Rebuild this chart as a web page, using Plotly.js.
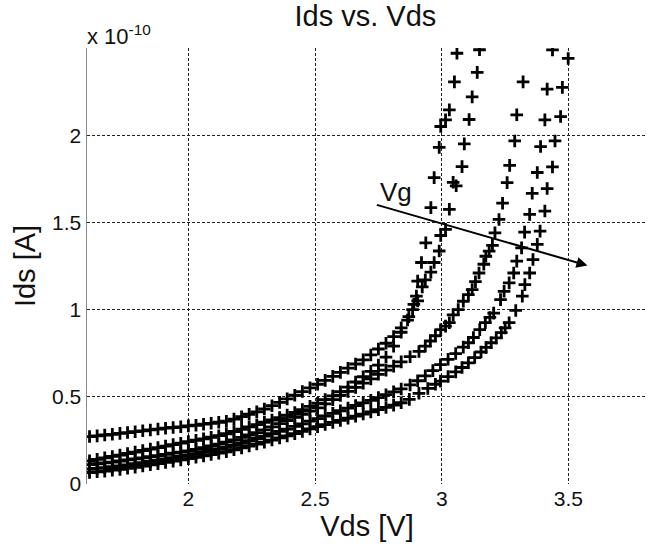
<!DOCTYPE html>
<html>
<head>
<meta charset="utf-8">
<script src="https://cdn.plot.ly/plotly-3.0.1.min.js"></script>
<style>html,body{margin:0;padding:0;background:#fff;}#chart{width:649px;height:549px;}</style>
</head>
<body>
<div id="chart"></div>
<script>
// Shared low-bias Vds sweep points [V]
const vdsLow = [1.61,1.64,1.67,1.70,1.73,1.76,1.79,1.82,1.85,1.88,1.91,1.94,1.97,2.00,2.03,2.06,2.09,2.12,2.15,2.18,2.21,2.24,2.27,2.30,2.33,2.36,2.39,2.42,2.45,2.48,2.51,2.54,2.57,2.60,2.63,2.66,2.69,2.72,2.75,2.78,2.81,2.84];

// Ids values in units of 1e-10 A
const idsLowA = [.272,.276,.281,.285,.29,.295,.3,.305,.31,.315,.32,.324,.328,.333,.337,.343,.348,.354,.36,.372,.386,.4,.414,.43,.449,.468,.488,.509,.53,.551,.572,.594,.617,.64,.664,.688,.712,.74,.774,.807,.845,.895];
const vdsHighA = [2.87,2.89,2.90,2.905,2.92,2.937,2.957,2.97,2.99,2.996,3.015,3.03,3.05,3.06];
const idsHighA = [.96,1.03,1.077,1.163,1.27,1.383,1.585,1.757,1.93,2.05,2.088,2.145,2.306,2.47];

const idsLowB = [.133,.141,.15,.158,.166,.175,.183,.192,.2,.209,.217,.226,.234,.243,.251,.259,.268,.277,.288,.301,.314,.327,.34,.354,.367,.381,.395,.41,.427,.445,.463,.484,.505,.529,.556,.585,.615,.646,.682,.728,.79,.87];
const vdsHighB = [2.865,2.885,2.905,2.923,2.935,2.957,2.97,2.99,2.996,3.015,3.03,3.045,3.057,3.08,3.089,3.108,3.12,3.14,3.149];
const idsHighB = [.94,1.0,1.05,1.13,1.17,1.215,1.27,1.336,1.425,1.46,1.575,1.73,1.71,1.82,1.95,2.09,2.22,2.36,2.49];

const idsLowC = [.111,.116,.121,.126,.132,.138,.144,.15,.157,.163,.17,.177,.183,.19,.199,.209,.219,.229,.24,.253,.267,.281,.295,.31,.328,.346,.364,.382,.4,.418,.437,.46,.484,.508,.531,.554,.578,.603,.629,.653,.676,.7];
const vdsHighC = [2.875,2.91,2.935,2.955,2.975,2.996,3.015,3.03,3.045,3.065,3.085,3.105,3.12,3.133,3.147,3.166,3.174,3.187,3.2,3.21,3.226,3.24,3.258,3.268,3.288,3.296,3.321];
const idsHighC = [.73,.76,.79,.82,.85,.885,.905,.925,.97,1.0,1.048,1.086,1.115,1.16,1.21,1.26,1.306,1.335,1.368,1.44,1.517,1.61,1.728,1.827,1.967,2.117,2.306];

const idsLowD = [.086,.09,.094,.099,.104,.11,.116,.123,.13,.137,.144,.151,.158,.165,.174,.183,.192,.201,.21,.222,.235,.248,.261,.275,.288,.302,.315,.33,.345,.36,.375,.39,.405,.42,.435,.45,.465,.48,.495,.512,.528,.545];
const vdsHighD = [2.875,2.905,2.935,2.965,2.995,3.025,3.055,3.085,3.105,3.125,3.15,3.172,3.19,3.205,3.232,3.246,3.266,3.284,3.296,3.315,3.327,3.347,3.357,3.377,3.39,3.407,3.416,3.437];
const idsHighD = [.568,.592,.62,.65,.684,.715,.748,.785,.81,.84,.885,.925,.955,.98,1.057,1.105,1.153,1.21,1.278,1.354,1.444,1.546,1.667,1.786,1.935,2.088,2.264,2.489];

const idsLowE = [.066,.07,.074,.079,.084,.09,.096,.103,.11,.117,.124,.131,.138,.145,.153,.161,.169,.177,.185,.196,.207,.218,.229,.24,.252,.264,.276,.289,.302,.316,.329,.341,.353,.365,.377,.389,.401,.413,.426,.439,.452,.466];
const vdsHighE = [2.872,2.91,2.945,2.975,2.995,3.025,3.055,3.08,3.105,3.13,3.155,3.175,3.195,3.215,3.235,3.25,3.266,3.292,3.318,3.328,3.347,3.36,3.377,3.388,3.407,3.416,3.437,3.447,3.469,3.476,3.499];
const idsHighE = [.485,.52,.548,.572,.59,.616,.643,.668,.695,.725,.757,.783,.81,.838,.868,.895,.925,.995,1.077,1.143,1.21,1.287,1.374,1.45,1.565,1.694,1.818,1.967,2.107,2.274,2.44];

const xTicks = [2, 2.5, 3, 3.5];
const xTickText = ['2', '2.5', '3', '3.5'];
const yTicks = [0, 0.5, 1, 1.5, 2];
const yTickText = ['0', '0.5', '1', '1.5', '2'];

const FONT = 'Arial, "Liberation Sans", sans-serif';

const curves = [
  [idsLowA, vdsHighA, idsHighA],
  [idsLowB, vdsHighB, idsHighB],
  [idsLowC, vdsHighC, idsHighC],
  [idsLowD, vdsHighD, idsHighD],
  [idsLowE, vdsHighE, idsHighE]
];

const traces = curves.map(c => ({
  type: 'scatter',
  mode: 'markers',
  x: vdsLow.concat(c[1]),
  y: c[0].concat(c[2]),
  marker: {symbol: 'cross-thin', size: 9, color: '#000', line: {color: '#000', width: 2.8}},
  showlegend: false,
  hoverinfo: 'skip',
  cliponaxis: true
}));

const gridStyle = {showgrid: true, gridcolor: '#222', gridwidth: 1, griddash: '3px,2px'};

const layout = {
  width: 649, height: 549,
  margin: {l: 87, r: 2, t: 48, b: 65},
  paper_bgcolor: '#fff', plot_bgcolor: '#fff',
  font: {family: FONT, color: '#111'},
  title: {text: 'Ids vs. Vds', font: {size: 29, family: FONT, color: '#111'},
          xref: 'container', yref: 'container', x: 0.563, xanchor: 'center', y: 0.972, yanchor: 'middle'},
  xaxis: Object.assign({
    range: [1.6, 3.81], tickvals: xTicks, ticktext: xTickText,
    tickfont: {size: 21, family: FONT, color: '#111'},
    title: {text: 'Vds [V]', font: {size: 29, family: FONT, color: '#111'}, standoff: 4},
    zeroline: false, showline: false, ticks: '', ticklen: 0
  }, gridStyle),
  yaxis: Object.assign({
    range: [0, 2.5], tickvals: yTicks, ticktext: yTickText,
    tickfont: {size: 21, family: FONT, color: '#111'},
    title: {text: 'Ids [A]', font: {size: 29, family: FONT, color: '#111'}, standoff: 8},
    zeroline: false, showline: true, linecolor: '#888', linewidth: 1.5, ticks: ''
  }, gridStyle),
  annotations: [
    {xref: 'paper', yref: 'paper', x: -0.003, y: 0.993, xanchor: 'left', yanchor: 'bottom',
     text: 'x 10<sup>-10</sup>', showarrow: false, font: {size: 22, family: FONT, color: '#111'}},
    {xref: 'x', yref: 'y', axref: 'x', ayref: 'y', x: 3.575, y: 1.253, ax: 2.738, ay: 1.603,
     text: '', showarrow: true, arrowhead: 2, arrowsize: 1.1, arrowwidth: 2, arrowcolor: '#000', standoff: 0, startstandoff: 0},
    {xref: 'x', yref: 'y', x: 2.82, y: 1.672, text: 'Vg', showarrow: false,
     font: {size: 26, family: FONT, color: '#111'}, xanchor: 'center', yanchor: 'middle'}
  ]
};

Plotly.newPlot('chart', traces, layout, {displayModeBar: false, staticPlot: true});
</script>
</body>
</html>
